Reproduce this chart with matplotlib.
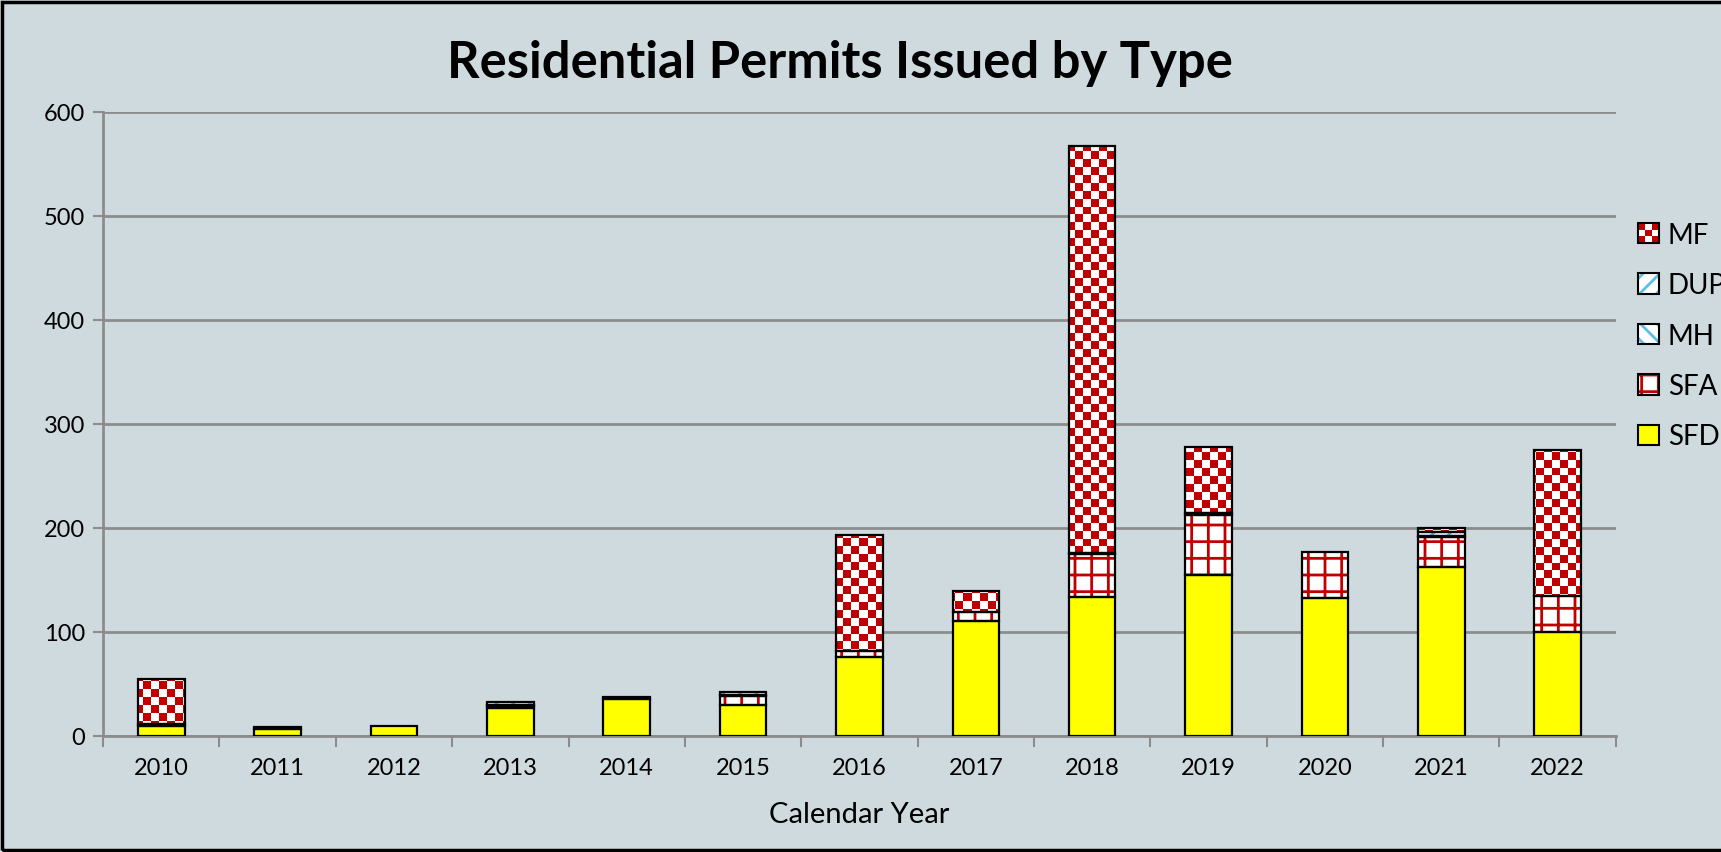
import numpy as np
import matplotlib
matplotlib.use("Agg")
import matplotlib.pyplot as plt
from matplotlib.patches import Rectangle, Patch

years = ['2010', '2011', '2012', '2013', '2014', '2015', '2016',
         '2017', '2018', '2019', '2020', '2021', '2022']
sfd = [10, 7, 10, 27, 36, 30, 76, 111, 134, 155, 133, 163, 100]
sfa = [2, 2, 0, 2, 2, 9, 6, 8, 41, 58, 44, 28, 35]
mh = [0, 0, 0, 1, 0, 1, 0, 0, 1, 0, 0, 1, 0]
dup = [0, 0, 0, 3, 0, 2, 0, 0, 0, 2, 0, 4, 0]
mf = [43, 0, 0, 0, 0, 0, 111, 21, 391, 63, 0, 4, 140]

BG = '#CFDADF'
RED = '#C00000'
BLUE = '#5BC0E8'

plt.rcParams['font.family'] = ['Lato', 'DejaVu Sans']
plt.rcParams['hatch.linewidth'] = 2.0

fig = plt.figure(figsize=(17.21, 8.52), dpi=100, facecolor=BG)
ax = fig.add_axes([0.0599, 0.136, 0.879, 0.7324], facecolor=BG)

x = np.arange(len(years))
w = 0.4

# series: name, values, face, hatch, hatch colour
series = [
    ('SFD', sfd, '#FFFF00', None, 'black'),
    ('SFA', sfa, 'white', '+', RED),
    ('MH', mh, 'white', '\\\\', BLUE),
    ('DUP', dup, 'white', '//', BLUE),
    ('MF', mf, 'white', None, 'black'),
]

# checker texture for MF, fixed size cells in pixels
cell = 8
nx, ny = int(1513 / cell) + 1, int(624 / cell) + 1
checker = (np.indices((ny, nx)).sum(axis=0) % 2).astype(float)
checker_rgb = np.ones((ny, nx, 3))
checker_rgb[checker == 1] = matplotlib.colors.to_rgb(RED)

bottom = np.zeros(len(years))
for name, vals, face, hatch, hcol in series:
    vals = np.array(vals, dtype=float)
    bars = ax.bar(x, vals, w, bottom=bottom, color=face, hatch=hatch,
                  edgecolor=hcol, linewidth=0, zorder=2)
    if name == 'MF':
        for b, v in zip(bars, vals):
            if v <= 0:
                continue
            im = ax.imshow(checker_rgb, extent=[0, 1, 0, 1], transform=ax.transAxes,
                           interpolation='nearest', origin='lower', zorder=2.5,
                           aspect='auto')
            im.set_clip_path(b)
    for xi, v, bt in zip(x, vals, bottom):
        if v > 0:
            ax.bar(xi, v, w, bottom=bt, fill=False, edgecolor='black',
                   linewidth=1.6, zorder=3)
    bottom += vals

ax.set_xlim(-0.5, len(years) - 0.5)
ax.set_ylim(0, 600)
ax.set_yticks(range(0, 601, 100))
ax.set_xticks(x)
ax.set_xticklabels(years)
ax.set_xticks(np.arange(-0.5, len(years), 1), minor=True)
ax.tick_params(axis='x', which='major', length=0, pad=16, labelsize=17)
ax.tick_params(axis='x', which='minor', length=8, width=1.5, color='#8C8C8C')
ax.tick_params(axis='y', length=7, width=1.5, color='#8C8C8C', labelsize=17, pad=6)
ax.yaxis.grid(True, color='#8C8C8C', linewidth=2)
ax.set_axisbelow(True)
for s in ['top', 'right']:
    ax.spines[s].set_visible(False)
for s in ['left', 'bottom']:
    ax.spines[s].set_color('#8C8C8C')
    ax.spines[s].set_linewidth(2)

ax.set_xlabel('Calendar Year', fontsize=21, labelpad=16)
fig.text(0.488, 0.925, 'Residential Permits Issued by Type', ha='center', va='center',
         fontsize=36.5, fontweight='bold')


class SwatchHandler:
    def legend_artist(self, legend, orig_handle, fontsize, handlebox):
        x0, y0 = handlebox.xdescent, handlebox.ydescent
        wd, ht = handlebox.width, handlebox.height
        tr = handlebox.get_transform()
        label = orig_handle.get_label()
        face = orig_handle.get_facecolor()
        handlebox.add_artist(Rectangle((x0, y0), wd, ht, facecolor=face,
                                       edgecolor='none', transform=tr))
        if label == 'MF':
            n = 3
            for i in range(n):
                for j in range(n):
                    if (i + j) % 2 == 0:
                        handlebox.add_artist(Rectangle((x0 + i * wd / n, y0 + j * ht / n),
                                                       wd / n, ht / n, facecolor=RED,
                                                       edgecolor='none', transform=tr))
        elif orig_handle.get_hatch():
            handlebox.add_artist(Rectangle((x0, y0), wd, ht, facecolor='none',
                                           hatch=orig_handle.get_hatch(),
                                           edgecolor=orig_handle.get_edgecolor(),
                                           linewidth=0, transform=tr))
        border = Rectangle((x0, y0), wd, ht, facecolor='none', edgecolor='black',
                           linewidth=1.5, transform=tr)
        handlebox.add_artist(border)
        return border


handles = [Patch(facecolor=s[2], hatch=s[3], edgecolor=s[4], label=s[0])
           for s in series][::-1]
fig.legend(handles=handles, loc='upper left', bbox_to_anchor=(0.9375, 0.768),
           frameon=False, fontsize=20, handlelength=0.75, handleheight=0.75,
           handletextpad=0.3, labelspacing=0.88,
           handler_map={Patch: SwatchHandler()})

fig.add_artist(Rectangle((0.001, 0.002), 1.5, 0.996, transform=fig.transFigure,
                         facecolor='none', edgecolor='black', linewidth=2.5))

fig.savefig('out.png', dpi=100, facecolor=BG)
